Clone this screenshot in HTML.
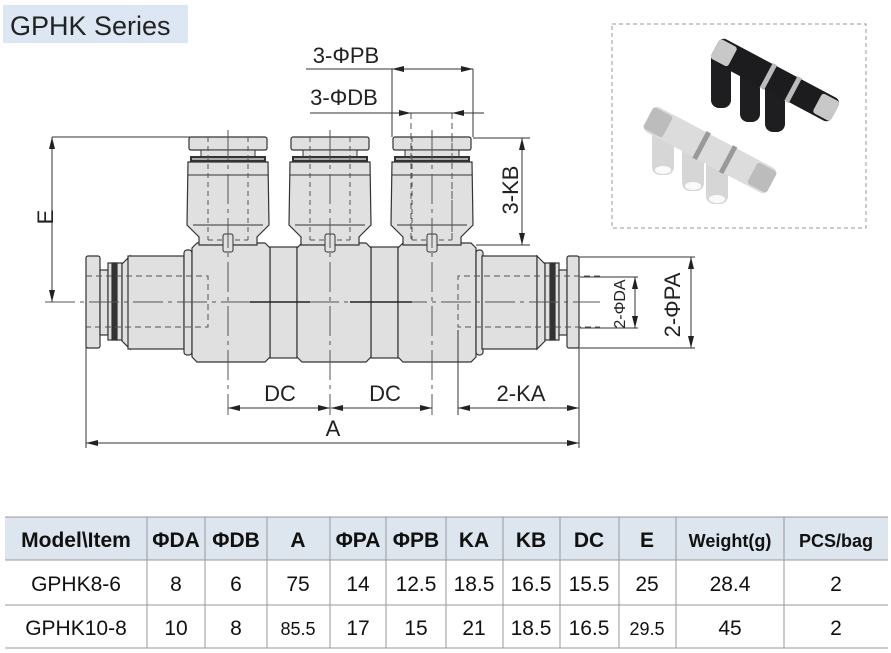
<!DOCTYPE html>
<html><head><meta charset="utf-8"><style>
body{margin:0;background:#fff;width:891px;height:653px;overflow:hidden;font-family:"Liberation Sans",sans-serif}
svg{position:absolute;left:0;top:0}
</style></head><body>
<svg width="891" height="653" viewBox="0 0 891 653" xmlns="http://www.w3.org/2000/svg" font-family="Liberation Sans, sans-serif">
<defs>
<marker id="ar" viewBox="0 0 12 6" refX="12" refY="3" markerWidth="12" markerHeight="6" orient="auto" markerUnits="userSpaceOnUse"><path d="M0,0 L12,3 L0,6 Z" fill="#222"/></marker>
<g id="fit">
<rect x="-39" y="137" width="78" height="13" rx="2" fill="#e0e0e0" stroke="#333" stroke-width="1.2"/>
<rect x="-27" y="150" width="54" height="7" fill="#e0e0e0" stroke="#333"/>
<rect x="-38" y="156" width="76" height="6" fill="#333"/>
<rect x="-36" y="158" width="72" height="2" fill="#aaa"/>
<path d="M-40,162 H40 L41,225 L29,237 V245 H-29 V237 L-41,225 Z" fill="#e0e0e0" stroke="#333" stroke-width="1.2"/>
<line x1="-40" y1="175" x2="40" y2="175" stroke="#333"/>
<line x1="-35" y1="225" x2="35" y2="225" stroke="#333"/>
<line x1="-20" y1="137" x2="-20" y2="240" stroke="#555" stroke-dasharray="5,4"/>
<line x1="20" y1="137" x2="20" y2="240" stroke="#555" stroke-dasharray="5,4"/>
<line x1="-20" y1="240" x2="20" y2="240" stroke="#555" stroke-dasharray="5,4"/>
<rect x="-5" y="234" width="10" height="18" rx="2" fill="#e0e0e0" stroke="#333"/>
</g>
</defs>
<rect x="3" y="5" width="185" height="38" fill="#dce7f3"/>
<text x="10" y="35" font-size="27" fill="#222">GPHK Series</text>

<g stroke="#333" stroke-width="1.2">
<rect x="86" y="256" width="14" height="92" rx="2" fill="#e0e0e0"/>
<rect x="100" y="270" width="8" height="65" fill="#e0e0e0"/>
<rect x="108" y="263" width="14" height="77" fill="#e0e0e0"/>
<rect x="112" y="263" width="5" height="77" fill="#333"/>
<path d="M122,264 L130,256 V349 L122,341 Z" fill="#e0e0e0"/>
<rect x="128" y="256" width="56" height="93" fill="#e0e0e0"/>
<rect x="184" y="250" width="8" height="105" rx="3" fill="#e0e0e0"/>
<rect x="270" y="247" width="27" height="111" fill="#e0e0e0"/>
<rect x="371" y="247" width="27" height="111" fill="#e0e0e0"/>
<path d="M197,243 H265 L270,248 V357 L265,362 H197 L192,357 V248 Z" fill="#e0e0e0"/>
<path d="M302,243 H366 L371,248 V357 L366,362 H302 L297,357 V248 Z" fill="#e0e0e0"/>
<path d="M403,243 H471 L476,248 V357 L471,362 H403 L398,357 V248 Z" fill="#e0e0e0"/>
<rect x="476" y="250" width="7" height="105" rx="3" fill="#e0e0e0"/>
<rect x="482" y="256" width="55" height="93" fill="#e0e0e0"/>
<path d="M537,256 L545,264 V341 L537,349 Z" fill="#e0e0e0"/>
<rect x="545" y="263" width="14" height="77" fill="#e0e0e0"/>
<rect x="550" y="263" width="5" height="77" fill="#333"/>
<rect x="559" y="270" width="8" height="65" fill="#e0e0e0"/>
<rect x="567" y="256" width="12" height="92" rx="2" fill="#e0e0e0"/>
</g>
<use href="#fit" x="228"/><use href="#fit" x="330"/><use href="#fit" x="432"/>

<g stroke="#555" stroke-width="1" fill="none" stroke-dasharray="6,4">
<path d="M86,276 H208 V327 H86"/>
<path d="M600,276 H458 V327 H600"/>
<line x1="45" y1="302" x2="600" y2="302" stroke-dasharray="30,5,4,5"/>
<line x1="228" y1="130" x2="228" y2="415" stroke-dasharray="30,5,4,5"/>
<line x1="330" y1="130" x2="330" y2="415" stroke-dasharray="30,5,4,5"/>
<line x1="432" y1="130" x2="432" y2="415" stroke-dasharray="30,5,4,5"/>
<line x1="411" y1="113" x2="411" y2="240"/>
<line x1="452" y1="113" x2="452" y2="240"/>
</g>
<line x1="250" y1="302" x2="310" y2="302" stroke="#222" stroke-width="1.5"/>
<line x1="350" y1="302" x2="412" y2="302" stroke="#222" stroke-width="1.5"/>

<g stroke="#333" stroke-width="1" fill="none">
<line x1="392" y1="69" x2="392" y2="137"/><line x1="473" y1="69" x2="473" y2="137"/>
<line x1="306" y1="69" x2="430" y2="69"/>
<line x1="430" y1="69" x2="392" y2="69" marker-end="url(#ar)"/>
<line x1="430" y1="69" x2="473" y2="69" marker-end="url(#ar)"/>
<line x1="310" y1="113" x2="411" y2="113" marker-end="url(#ar)"/>
<line x1="484" y1="113" x2="452" y2="113" marker-end="url(#ar)"/>
<line x1="411" y1="113" x2="452" y2="113"/>
<line x1="52" y1="137" x2="190" y2="137"/>
<line x1="52" y1="220" x2="52" y2="137" marker-end="url(#ar)"/>
<line x1="52" y1="220" x2="52" y2="302" marker-end="url(#ar)"/>
<line x1="473" y1="138" x2="530" y2="138"/><line x1="476" y1="245" x2="530" y2="245"/>
<line x1="522" y1="190" x2="522" y2="138" marker-end="url(#ar)"/>
<line x1="522" y1="190" x2="522" y2="245" marker-end="url(#ar)"/>
<line x1="580" y1="277" x2="638" y2="277"/><line x1="580" y1="328" x2="638" y2="328"/>
<line x1="635" y1="302" x2="635" y2="277" marker-end="url(#ar)"/>
<line x1="635" y1="302" x2="635" y2="328" marker-end="url(#ar)"/>
<line x1="579" y1="257" x2="695" y2="257"/><line x1="579" y1="348" x2="695" y2="348"/>
<line x1="691" y1="302" x2="691" y2="257" marker-end="url(#ar)"/>
<line x1="691" y1="302" x2="691" y2="348" marker-end="url(#ar)"/>
<line x1="458" y1="330" x2="458" y2="415"/><line x1="579" y1="348" x2="579" y2="448"/>
<line x1="86" y1="347" x2="86" y2="448"/>
<line x1="279" y1="408" x2="228" y2="408" marker-end="url(#ar)"/>
<line x1="279" y1="408" x2="330" y2="408" marker-end="url(#ar)"/>
<line x1="381" y1="408" x2="331" y2="408" marker-end="url(#ar)"/>
<line x1="381" y1="408" x2="432" y2="408" marker-end="url(#ar)"/>
<line x1="518" y1="408" x2="458" y2="408" marker-end="url(#ar)"/>
<line x1="518" y1="408" x2="579" y2="408" marker-end="url(#ar)"/>
<line x1="333" y1="443" x2="86" y2="443" marker-end="url(#ar)"/>
<line x1="333" y1="443" x2="579" y2="443" marker-end="url(#ar)"/>
</g>
<g fill="#222" font-size="22" text-anchor="middle">
<text x="346" y="63">3-ΦPB</text>
<text x="344" y="105">3-ΦDB</text>
<text x="280" y="401">DC</text>
<text x="385" y="401">DC</text>
<text x="521" y="401">2-KA</text>
<text x="333" y="436">A</text>
<text transform="translate(45,217) rotate(-90)" y="8">E</text>
<text transform="translate(510,190) rotate(-90)" y="8">3-KB</text>
<text transform="translate(672,305) rotate(-90)" y="8">2-ΦPA</text>
<text transform="translate(619,304) rotate(-90)" y="6" font-size="16">2-ΦDA</text>
</g>

<rect x="612" y="24" width="254" height="204" fill="#fff" stroke="#999" stroke-dasharray="4,3"/>
<g fill="#1e1e20">
<rect x="711" y="51" width="20" height="57" rx="8"/>
<rect x="740" y="67" width="20" height="55" rx="8"/>
<rect x="765" y="80" width="20" height="52" rx="8"/>
</g>
<g transform="translate(775,80) rotate(28)">
<rect x="-68" y="-13" width="136" height="26" rx="6" fill="#1c1c1e"/>
<rect x="-68" y="-11" width="20" height="22" rx="3" fill="#c8c8c8"/>
<rect x="48" y="-11" width="20" height="22" rx="3" fill="#c8c8c8"/>
<rect x="-10" y="-14" width="5" height="28" fill="#bbb"/><rect x="18" y="-14" width="5" height="28" fill="#bbb"/>
</g>
<g fill="#d6d6d6">
<rect x="652" y="125" width="22" height="50" rx="8"/>
<rect x="682" y="141" width="22" height="50" rx="8"/>
<rect x="706" y="154" width="22" height="50" rx="8"/>
</g>
<g fill="#fafafa"><ellipse cx="663" cy="170" rx="8" ry="4"/><ellipse cx="693" cy="186" rx="8" ry="4"/><ellipse cx="717" cy="199" rx="8" ry="4"/></g>
<g transform="translate(710,150) rotate(28)">
<rect x="-70" y="-14" width="140" height="28" rx="6" fill="#dcdcdc"/>
<rect x="-70" y="-12" width="22" height="24" rx="3" fill="#bcbcbc"/>
<rect x="48" y="-12" width="22" height="24" rx="3" fill="#bcbcbc"/>
<rect x="-12" y="-15" width="5" height="30" fill="#999"/><rect x="18" y="-15" width="5" height="30" fill="#999"/>
</g>

<rect x="5" y="517" width="883" height="43" fill="#dde5ee"/>
<g stroke="#999" stroke-width="1">
<line x1="5" y1="517" x2="888" y2="517"/><line x1="5" y1="560" x2="888" y2="560"/>
<line x1="5" y1="605" x2="888" y2="605"/><line x1="5" y1="648" x2="888" y2="648"/>
<path d="M147,517V648M205,517V648M267,517V648M330,517V648M386,517V648M446,517V648M503,517V648M560,517V648M619,517V648M676,517V648M784,517V648"/>
</g>
<g font-size="21" font-weight="bold" text-anchor="middle" fill="#111">
<text x="76" y="547">Model\Item</text>
<text x="176" y="547">ΦDA</text><text x="236" y="547">ΦDB</text><text x="298" y="547">A</text>
<text x="358" y="547">ΦPA</text><text x="416" y="547">ΦPB</text><text x="474" y="547">KA</text>
<text x="531" y="547">KB</text><text x="589" y="547">DC</text><text x="647" y="547">E</text>
<text x="730" y="547" font-size="18">Weight(g)</text><text x="836" y="547" font-size="18">PCS/bag</text>
</g>
<g font-size="21" text-anchor="middle" fill="#111">
<text x="76" y="591">GPHK8-6</text><text x="176" y="591">8</text><text x="236" y="591">6</text><text x="298" y="591">75</text>
<text x="358" y="591">14</text><text x="416" y="591">12.5</text><text x="474" y="591">18.5</text><text x="531" y="591">16.5</text>
<text x="589" y="591">15.5</text><text x="647" y="591">25</text><text x="730" y="591">28.4</text><text x="836" y="591">2</text>
<text x="76" y="635">GPHK10-8</text><text x="176" y="635">10</text><text x="236" y="635">8</text><text x="298" y="635" font-size="18">85.5</text>
<text x="358" y="635">17</text><text x="416" y="635">15</text><text x="474" y="635">21</text><text x="531" y="635">18.5</text>
<text x="589" y="635">16.5</text><text x="647" y="635" font-size="18">29.5</text><text x="730" y="635">45</text><text x="836" y="635">2</text>
</g>
</svg>
</body></html>
